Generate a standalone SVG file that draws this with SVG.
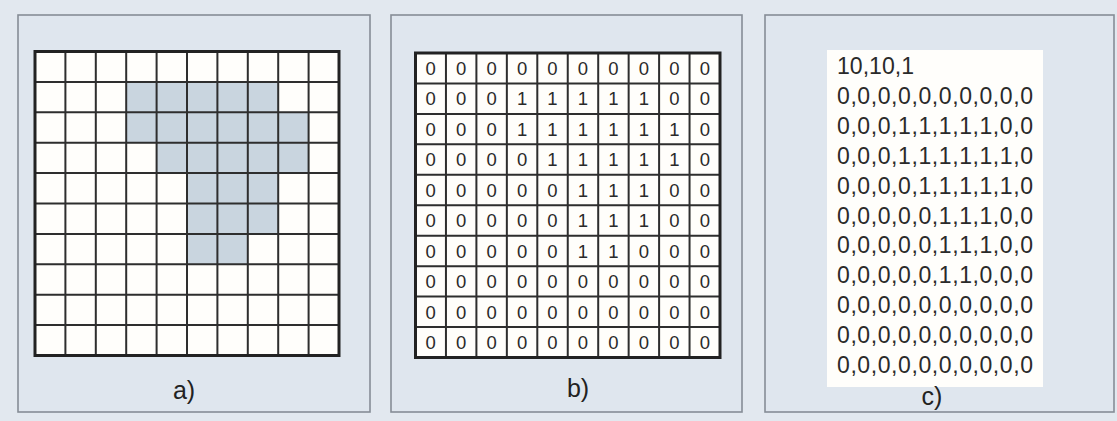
<svg xmlns="http://www.w3.org/2000/svg" width="1117" height="421" viewBox="0 0 1117 421">
<defs>
<style>
.frame{fill:#dfe6ee;stroke:#868d96;stroke-width:1.6}
.cell{fill:#fffefb}
.shade{fill:#c9d5df}
.inner{fill:none;stroke:#2e2e2e;stroke-width:2}
.outer{fill:none;stroke:#222;stroke-width:3}
.d{font-family:"Liberation Sans",Arial,sans-serif;font-size:18.5px;fill:#2a2a2a;text-anchor:middle}
.t{font-family:"Liberation Sans",Arial,sans-serif;font-size:23px;fill:#2a2a2a}
.lbl{font-family:"Liberation Sans",Arial,sans-serif;font-size:25px;fill:#222;text-anchor:middle}
</style>
</defs>
<rect x="0" y="0" width="1117" height="421" fill="#e2e8ef"/>

<g id="panel-a">
<rect class="frame" x="18" y="15" width="352" height="397"/>
<rect class="cell" x="35" y="51.5" width="304" height="304"/>
<rect class="shade" x="126.2" y="81.9" width="152" height="30.4"/>
<rect class="shade" x="126.2" y="112.3" width="182.4" height="30.4"/>
<rect class="shade" x="156.6" y="142.7" width="152" height="30.4"/>
<rect class="shade" x="187" y="173.1" width="91.2" height="30.4"/>
<rect class="shade" x="187" y="203.5" width="91.2" height="30.4"/>
<rect class="shade" x="187" y="233.9" width="60.8" height="30.4"/>
<path class="inner" d="M65.4 51.5V355.5M95.8 51.5V355.5M126.2 51.5V355.5M156.6 51.5V355.5M187 51.5V355.5M217.4 51.5V355.5M247.8 51.5V355.5M278.2 51.5V355.5M308.6 51.5V355.5M35 81.9H339M35 112.3H339M35 142.7H339M35 173.1H339M35 203.5H339M35 233.9H339M35 264.3H339M35 294.7H339M35 325.1H339"/>
<rect class="outer" x="35" y="51.5" width="304" height="304"/>
<text class="lbl" x="184" y="399">a)</text>
</g>

<g id="panel-b">
<rect class="frame" x="391" y="15" width="351" height="397"/>
<rect class="cell" x="415.5" y="53" width="304.5" height="304.5"/>
<path class="inner" d="M445.95 53V357.5M476.4 53V357.5M506.85 53V357.5M537.3 53V357.5M567.75 53V357.5M598.2 53V357.5M628.65 53V357.5M659.1 53V357.5M689.55 53V357.5M415.5 83.45H720M415.5 113.9H720M415.5 144.35H720M415.5 174.8H720M415.5 205.25H720M415.5 235.7H720M415.5 266.15H720M415.5 296.6H720M415.5 327.05H720"/>
<rect class="outer" x="415.5" y="53" width="304.5" height="304.5"/>
<g class="d">
<text x="430.7" y="75">0</text><text x="461.2" y="75">0</text><text x="491.6" y="75">0</text><text x="522.1" y="75">0</text><text x="552.5" y="75">0</text><text x="583" y="75">0</text><text x="613.4" y="75">0</text><text x="643.9" y="75">0</text><text x="674.3" y="75">0</text><text x="704.8" y="75">0</text>
<text x="430.7" y="105.45">0</text><text x="461.2" y="105.45">0</text><text x="491.6" y="105.45">0</text><text x="522.1" y="105.45">1</text><text x="552.5" y="105.45">1</text><text x="583" y="105.45">1</text><text x="613.4" y="105.45">1</text><text x="643.9" y="105.45">1</text><text x="674.3" y="105.45">0</text><text x="704.8" y="105.45">0</text>
<text x="430.7" y="135.9">0</text><text x="461.2" y="135.9">0</text><text x="491.6" y="135.9">0</text><text x="522.1" y="135.9">1</text><text x="552.5" y="135.9">1</text><text x="583" y="135.9">1</text><text x="613.4" y="135.9">1</text><text x="643.9" y="135.9">1</text><text x="674.3" y="135.9">1</text><text x="704.8" y="135.9">0</text>
<text x="430.7" y="166.35">0</text><text x="461.2" y="166.35">0</text><text x="491.6" y="166.35">0</text><text x="522.1" y="166.35">0</text><text x="552.5" y="166.35">1</text><text x="583" y="166.35">1</text><text x="613.4" y="166.35">1</text><text x="643.9" y="166.35">1</text><text x="674.3" y="166.35">1</text><text x="704.8" y="166.35">0</text>
<text x="430.7" y="196.8">0</text><text x="461.2" y="196.8">0</text><text x="491.6" y="196.8">0</text><text x="522.1" y="196.8">0</text><text x="552.5" y="196.8">0</text><text x="583" y="196.8">1</text><text x="613.4" y="196.8">1</text><text x="643.9" y="196.8">1</text><text x="674.3" y="196.8">0</text><text x="704.8" y="196.8">0</text>
<text x="430.7" y="227.25">0</text><text x="461.2" y="227.25">0</text><text x="491.6" y="227.25">0</text><text x="522.1" y="227.25">0</text><text x="552.5" y="227.25">0</text><text x="583" y="227.25">1</text><text x="613.4" y="227.25">1</text><text x="643.9" y="227.25">1</text><text x="674.3" y="227.25">0</text><text x="704.8" y="227.25">0</text>
<text x="430.7" y="257.7">0</text><text x="461.2" y="257.7">0</text><text x="491.6" y="257.7">0</text><text x="522.1" y="257.7">0</text><text x="552.5" y="257.7">0</text><text x="583" y="257.7">1</text><text x="613.4" y="257.7">1</text><text x="643.9" y="257.7">0</text><text x="674.3" y="257.7">0</text><text x="704.8" y="257.7">0</text>
<text x="430.7" y="288.15">0</text><text x="461.2" y="288.15">0</text><text x="491.6" y="288.15">0</text><text x="522.1" y="288.15">0</text><text x="552.5" y="288.15">0</text><text x="583" y="288.15">0</text><text x="613.4" y="288.15">0</text><text x="643.9" y="288.15">0</text><text x="674.3" y="288.15">0</text><text x="704.8" y="288.15">0</text>
<text x="430.7" y="318.6">0</text><text x="461.2" y="318.6">0</text><text x="491.6" y="318.6">0</text><text x="522.1" y="318.6">0</text><text x="552.5" y="318.6">0</text><text x="583" y="318.6">0</text><text x="613.4" y="318.6">0</text><text x="643.9" y="318.6">0</text><text x="674.3" y="318.6">0</text><text x="704.8" y="318.6">0</text>
<text x="430.7" y="349.05">0</text><text x="461.2" y="349.05">0</text><text x="491.6" y="349.05">0</text><text x="522.1" y="349.05">0</text><text x="552.5" y="349.05">0</text><text x="583" y="349.05">0</text><text x="613.4" y="349.05">0</text><text x="643.9" y="349.05">0</text><text x="674.3" y="349.05">0</text><text x="704.8" y="349.05">0</text>
</g>
<text class="lbl" x="578" y="397">b)</text>
</g>

<g id="panel-c">
<rect class="frame" x="765" y="15" width="349" height="397"/>
<rect class="cell" x="827" y="50" width="216" height="337"/>
<text class="t" x="837" y="74" font-size="19" textLength="77" lengthAdjust="spacingAndGlyphs">10,10,1</text>
<text class="t" x="837" y="103.9" textLength="196" lengthAdjust="spacing">0,0,0,0,0,0,0,0,0,0</text>
<text class="t" x="837" y="133.8" textLength="196" lengthAdjust="spacing">0,0,0,1,1,1,1,1,0,0</text>
<text class="t" x="837" y="163.7" textLength="196" lengthAdjust="spacing">0,0,0,1,1,1,1,1,1,0</text>
<text class="t" x="837" y="193.6" textLength="196" lengthAdjust="spacing">0,0,0,0,1,1,1,1,1,0</text>
<text class="t" x="837" y="223.5" textLength="196" lengthAdjust="spacing">0,0,0,0,0,1,1,1,0,0</text>
<text class="t" x="837" y="253.4" textLength="196" lengthAdjust="spacing">0,0,0,0,0,1,1,1,0,0</text>
<text class="t" x="837" y="283.3" textLength="196" lengthAdjust="spacing">0,0,0,0,0,1,1,0,0,0</text>
<text class="t" x="837" y="313.2" textLength="196" lengthAdjust="spacing">0,0,0,0,0,0,0,0,0,0</text>
<text class="t" x="837" y="343.1" textLength="196" lengthAdjust="spacing">0,0,0,0,0,0,0,0,0,0</text>
<text class="t" x="837" y="373" textLength="196" lengthAdjust="spacing">0,0,0,0,0,0,0,0,0,0</text>
<text class="lbl" x="932" y="405">c)</text>
</g>
</svg>
